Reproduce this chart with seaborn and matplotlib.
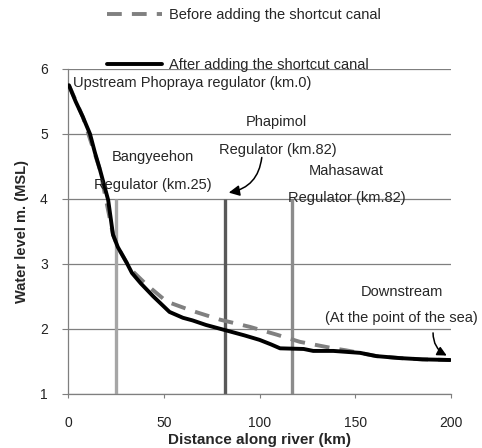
import numpy as np
import pandas as pd
import matplotlib
matplotlib.use("Agg")
import matplotlib.pyplot as plt
import seaborn as sns

# water level along the river (km, m MSL)
km_after = [0.5, 4, 7.8, 11.5, 14, 16.7, 19, 21, 23.5, 26, 30.6, 33.4, 38, 44.5, 53, 60,
            65, 72, 82, 92, 100, 106, 110.7, 123, 128, 138.5, 152.5, 161, 173, 185, 199.5]
wl_after = [5.75, 5.5, 5.26, 5.0, 4.72, 4.45, 4.2, 3.98, 3.45, 3.26, 3.02, 2.86, 2.7, 2.5,
            2.26, 2.17, 2.13, 2.06, 1.98, 1.9, 1.83, 1.76, 1.7, 1.69, 1.66, 1.66, 1.63, 1.58,
            1.55, 1.53, 1.52]

km_before = [0.5, 7.8, 16.7, 23.5, 26, 30.6, 34, 41, 51.5, 64.5, 79.5, 95, 109, 121,
             138.5, 145, 161, 173, 185, 199.5]
wl_before = [5.75, 5.26, 4.45, 3.45, 3.26, 3.02, 2.88, 2.68, 2.42, 2.28, 2.14, 2.03, 1.91,
             1.8, 1.7, 1.67, 1.58, 1.55, 1.53, 1.52]

regulator_km = [25, 82, 117]
regulator_colors = ["#a6a6a6", "#595959", "#8c8c8c"]

x_ticks = [0, 50, 100, 150, 200]
y_ticks = [1, 2, 3, 4, 5, 6]

series_names = ["Before adding the shortcut canal", "After adding the shortcut canal"]

df = pd.concat([
    pd.DataFrame({"km": km_before, "wl": wl_before, "case": series_names[0]}),
    pd.DataFrame({"km": km_after, "wl": wl_after, "case": series_names[1]}),
], ignore_index=True)

sns.set_style("white")
plt.rcParams["font.family"] = ["Liberation Sans", "DejaVu Sans"]

fig = plt.figure(figsize=(4.82, 4.48), dpi=100)
ax = fig.add_axes([0.141, 0.121, 0.795, 0.725])

ax.set_axisbelow(True)
ax.yaxis.grid(True, color="#7f7f7f", lw=0.9)

# regulators
ax.vlines(regulator_km, 1, 4, colors=regulator_colors, lw=2.4, zorder=2)

sns.lineplot(data=df, x="km", y="wl", hue="case", style="case",
             palette={series_names[0]: "#808080", series_names[1]: "black"},
             dashes={series_names[0]: (3.8, 2.6), series_names[1]: ""},
             sort=False, estimator=None, lw=2.8, ax=ax, zorder=3)

ax.set_xlim(0, 200)
ax.set_ylim(1, 6)
ax.set_xticks(x_ticks)
ax.set_yticks(y_ticks)
ax.tick_params(axis="both", labelsize=10, colors="#222222")
ax.tick_params(axis="x", length=3, pad=13, color="#7f7f7f", direction="out", bottom=True)
ax.tick_params(axis="y", length=4.5, pad=10, color="#7f7f7f", direction="out", left=True)
for s in ["top", "right"]:
    ax.spines[s].set_visible(False)
for s in ["left", "bottom"]:
    ax.spines[s].set_color("#7f7f7f")
    ax.spines[s].set_linewidth(0.9)

ax.set_xlabel("Distance along river (km)", fontsize=11, fontweight="bold", labelpad=2)
ax.set_ylabel("Water level m. (MSL)", fontsize=10.5, fontweight="bold", labelpad=8)

fs = 10.5
ax.text(2.6, 5.78, "Upstream Phopraya regulator (km.0)", fontsize=fs, ha="left", va="center")
ax.text(44.4, 4.65, "Bangyeehon", fontsize=fs, ha="center", va="center")
ax.text(44.4, 4.22, "Regulator (km.25)", fontsize=fs, ha="center", va="center")
ax.text(109, 5.18, "Phapimol", fontsize=fs, ha="center", va="center")
ax.text(109.7, 4.75, "Regulator (km.82)", fontsize=fs, ha="center", va="center")
ax.text(145.5, 4.43, "Mahasawat", fontsize=fs, ha="center", va="center")
ax.text(145.7, 4.02, "Regulator (km.82)", fontsize=fs, ha="center", va="center")
ax.text(174.4, 2.57, "Downstream", fontsize=fs, ha="center", va="center")
ax.text(173.9, 2.17, "(At the point of the sea)", fontsize=fs, ha="center", va="center")

ax.annotate("", xy=(82.5, 4.09), xytext=(101.3, 4.68),
            arrowprops=dict(arrowstyle="-|>", color="black", lw=1.1,
                            mutation_scale=16, connectionstyle="arc3,rad=-0.4"))
ax.annotate("", xy=(199, 1.57), xytext=(190.6, 1.98),
            arrowprops=dict(arrowstyle="-|>", color="black", lw=1.1,
                            mutation_scale=14, connectionstyle="arc3,rad=0.35"))

handles, labels = ax.get_legend_handles_labels()
ax.legend(handles, labels, loc="upper left", bbox_to_anchor=(107 / 482, 1 - 8 / 448),
          bbox_transform=fig.transFigure, frameon=False, fontsize=10.5,
          handlelength=3.8, labelspacing=2.45, handletextpad=0.45,
          borderpad=0, borderaxespad=0)

fig.savefig("out.png", dpi=100)
